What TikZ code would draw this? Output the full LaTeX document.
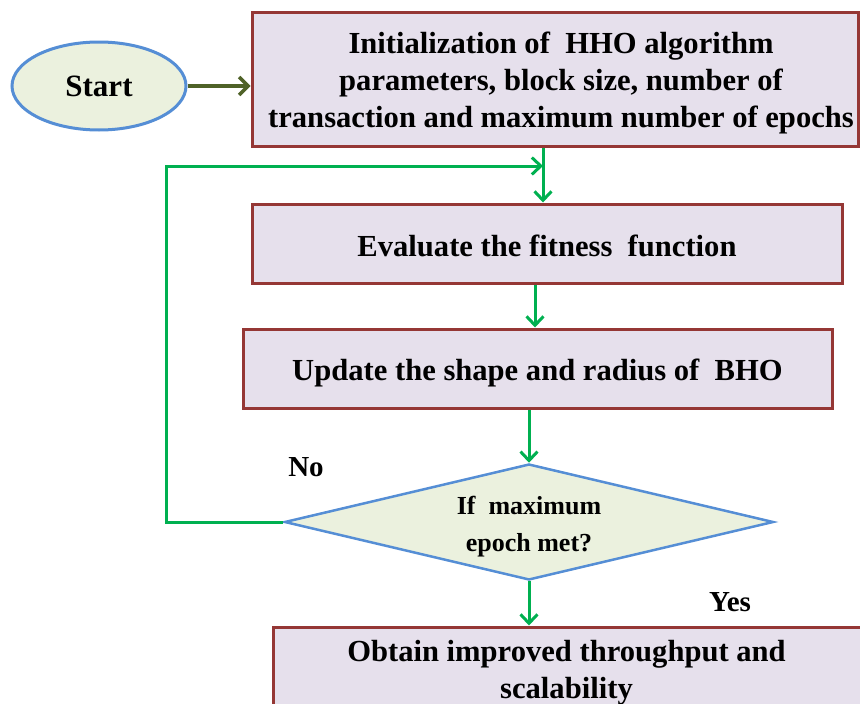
\documentclass[tikz,border=0pt]{standalone}
\usepackage{fontspec}
\setmainfont{Liberation Serif}
\usetikzlibrary{shapes.geometric,arrows.meta}
\definecolor{boxfill}{HTML}{E6E0EC}
\definecolor{boxline}{HTML}{953735}
\definecolor{ovalfill}{HTML}{EBF1DE}
\definecolor{ovalline}{HTML}{558ED5}
\definecolor{olivearrow}{HTML}{4F6228}
\definecolor{greenarrow}{HTML}{00B050}
\newcommand{\lowertext}[2]{\raisebox{-#1}[\height][\depth]{#2}}
\tikzset{
  procbox/.style={rectangle, draw=boxline, fill=boxfill, line width=3pt, inner sep=0pt, align=center,
    font=\fontsize{30.6}{37}\selectfont\bfseries},
  startoval/.style={ellipse, draw=ovalline, fill=ovalfill, line width=3pt, inner sep=0pt,
    minimum width=174pt, minimum height=88pt, font=\fontsize{31}{37}\selectfont\bfseries},
  decision/.style={diamond, draw=ovalline, fill=ovalfill, line width=2.5pt, inner sep=0pt, aspect=4.2,
    minimum width=489pt, minimum height=116pt},
  dtext/.style={align=center, inner sep=0pt, font=\fontsize{26}{37}\selectfont\bfseries},
  flow/.style={draw=greenarrow, line width=3pt, -{Straight Barb[length=9pt,width=17pt,line width=3pt]}},
  startflow/.style={draw=olivearrow, line width=3.5pt, -{Straight Barb[length=9pt,width=18pt,line width=3.5pt]}},
  lbl/.style={font=\fontsize{29}{35}\selectfont\bfseries, inner sep=0pt}
}
\begin{document}
\begin{tikzpicture}[x=1pt,y=-1pt]
\useasboundingbox (0,0) rectangle (860,704);
\node[startoval] (start) at (99,86) {Start};
\node[procbox, minimum width=606pt, minimum height=134pt] (init) at (555,79)
  {\lowertext{4pt}{\hbox{\hspace*{12pt}\parbox{590pt}{\centering Initialization of\ \ HHO algorithm\\ parameters, block size, number of\\ transaction and maximum number of epochs}}}};
\node[procbox, minimum width=590pt, minimum height=79pt] (eval) at (547,243.5)
  {\lowertext{2pt}{Evaluate the fitness\ \ function}};
\node[procbox, minimum width=589pt, minimum height=79pt] (upd) at (537.5,368.5)
  {\lowertext{4pt}{Update the shape and radius of\ \ BHO}};
\node[decision] (dia) at (529,522) {};
\node[dtext] (diat) at (529,527) {If\ \ maximum\\ epoch met?};
\node[procbox, minimum width=597pt, minimum height=88pt] (obt) at (571.5,671)
  {\lowertext{2pt}{\hbox{\parbox{580pt}{\centering Obtain improved throughput and\\ scalability}\hspace*{10pt}}}};
\node[lbl] (no) at (306,467) {No};
\node[lbl] (yes) at (730,602) {Yes};
\coordinate (loopc) at (166,166);
\coordinate (join) at (543,166);
\draw[startflow] (start.east) -- (init.west |- start.east);
\draw[flow] (init.south -| join) -- (eval.north -| join);
\draw[flow] (eval.south -| 535,0) -- (upd.north -| 535,0);
\draw[flow] (upd.south -| dia.north) -- (dia.north);
\draw[flow] (dia.south) -- (dia.south |- obt.north);
\draw[flow] (dia.west) -| (loopc) -- (join);
\end{tikzpicture}
\end{document}
